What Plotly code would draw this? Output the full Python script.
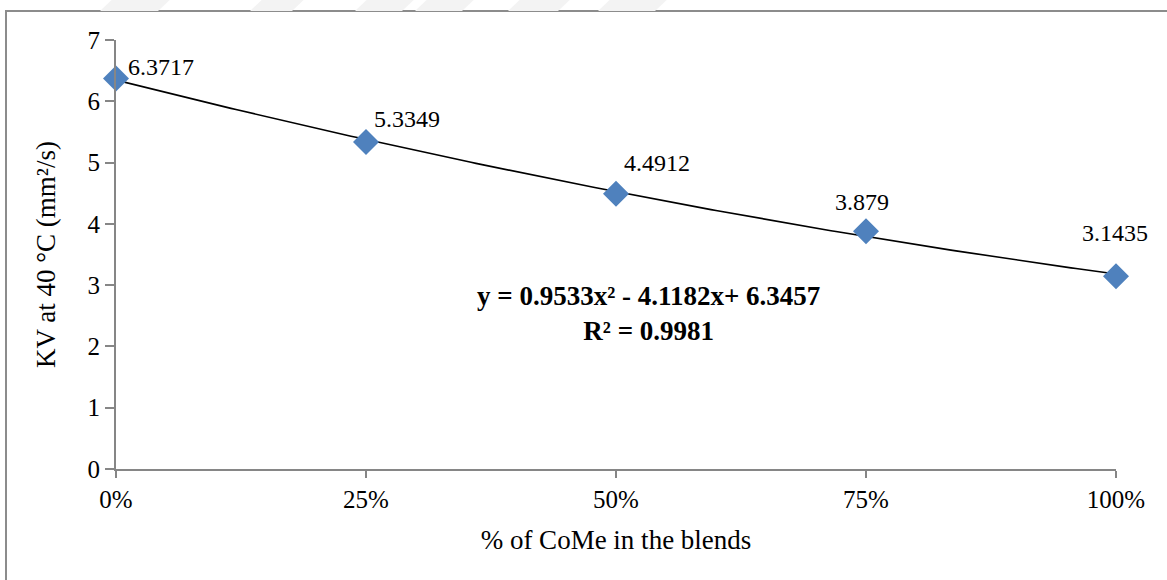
import numpy as np
import plotly.graph_objects as go

# Kinematic viscosity of the blends vs. CoMe fraction
come_fraction = [0.0, 0.25, 0.50, 0.75, 1.0]
kv_40c = [6.3717, 5.3349, 4.4912, 3.879, 3.1435]
kv_labels = ["6.3717", "5.3349", "4.4912", "3.879", "3.1435"]
x_tick_vals = [0.0, 0.25, 0.50, 0.75, 1.0]
x_tick_text = ["0%", "25%", "50%", "75%", "100%"]
y_tick_vals = [0, 1, 2, 3, 4, 5, 6, 7]

# Polynomial trendline (order 2) as reported on the chart
trend_coef = [0.9533, -4.1182, 6.3457]
trend_r2 = 0.9981

FONT = "Liberation Serif"
AXIS_GREY = "#868686"

x_fit = np.linspace(0, 1, 201)
y_fit = np.polyval(trend_coef, x_fit)

fig = go.Figure()
fig.add_trace(go.Scatter(
    x=x_fit, y=y_fit, mode="lines",
    line=dict(color="black", width=1.6),
    hoverinfo="skip", showlegend=False,
))
fig.add_trace(go.Scatter(
    x=come_fraction, y=kv_40c, mode="markers",
    marker=dict(symbol="diamond", size=20, color="#4F81BD",
                line=dict(width=0)),
    cliponaxis=False, showlegend=False,
))

# Data labels, nudged individually around each marker
label_offsets = [(45, -12), (41, -23), (41, -31), (-4, -29), (-1, -43)]
for xv, yv, txt, (dx, dy) in zip(come_fraction, kv_40c, kv_labels, label_offsets):
    fig.add_annotation(
        x=xv, y=yv, text=txt, showarrow=False,
        xshift=dx, yshift=-dy,
        font=dict(family=FONT, size=24, color="black"),
    )

# Trendline equation
fig.add_annotation(
    x=0.532, y=2.53, xref="x", yref="y", showarrow=False, align="center",
    text=(f"<b>y = {trend_coef[0]:.4f}x² - {abs(trend_coef[1]):.4f}x+ {trend_coef[2]:.4f}</b><br>"
          f"<b>R² = {trend_r2:.4f}</b>"),
    font=dict(family=FONT, size=27, color="black"),
)

# Outer chart frame (runs past the right and bottom of the page)
fig.add_shape(type="rect", xref="paper", yref="paper",
              x0=-0.110, x1=1.06, y0=-0.30, y1=1.0676,
              line=dict(color="#8c8c8c", width=2), layer="below")

# Faint watermark bands along the top edge
for xa, xb in [(100, 158), (250, 292), (355, 402), (415, 462), (508, 558), (598, 655)]:
    x0p = (xa - 116) / 1000
    x1p = (xb - 116) / 1000
    fig.add_shape(type="path", xref="paper", yref="paper",
                  path=f"M {x0p + 0.012} 1.094 L {x1p + 0.012} 1.094 L {x1p} 1.0676 L {x0p} 1.0676 Z",
                  fillcolor="#f3f3f3", line=dict(width=0), layer="below")

fig.update_xaxes(
    range=[0, 1], tickvals=x_tick_vals, ticktext=x_tick_text,
    showgrid=False, zeroline=False,
    showline=True, linecolor=AXIS_GREY, linewidth=2,
    ticks="outside", ticklen=7, tickwidth=2, tickcolor=AXIS_GREY,
    tickfont=dict(family=FONT, size=25, color="black"),
    title=dict(text="% of CoMe in the blends",
               font=dict(family=FONT, size=27, color="black"), standoff=18),
)
fig.update_yaxes(
    range=[0, 7], tickvals=y_tick_vals,
    showgrid=False, zeroline=False,
    showline=True, linecolor=AXIS_GREY, linewidth=2,
    ticks="outside", ticklen=9, tickwidth=2, tickcolor=AXIS_GREY,
    tickfont=dict(family=FONT, size=25, color="black"),
    title=dict(text="KV at 40 °C (mm²/s)",
               font=dict(family=FONT, size=27, color="black"), standoff=24),
)

fig.update_layout(
    width=1167, height=580,
    margin=dict(l=116, r=51, t=40, b=111),
    paper_bgcolor="white", plot_bgcolor="white",
    showlegend=False,
)

fig.write_html("out.html")
